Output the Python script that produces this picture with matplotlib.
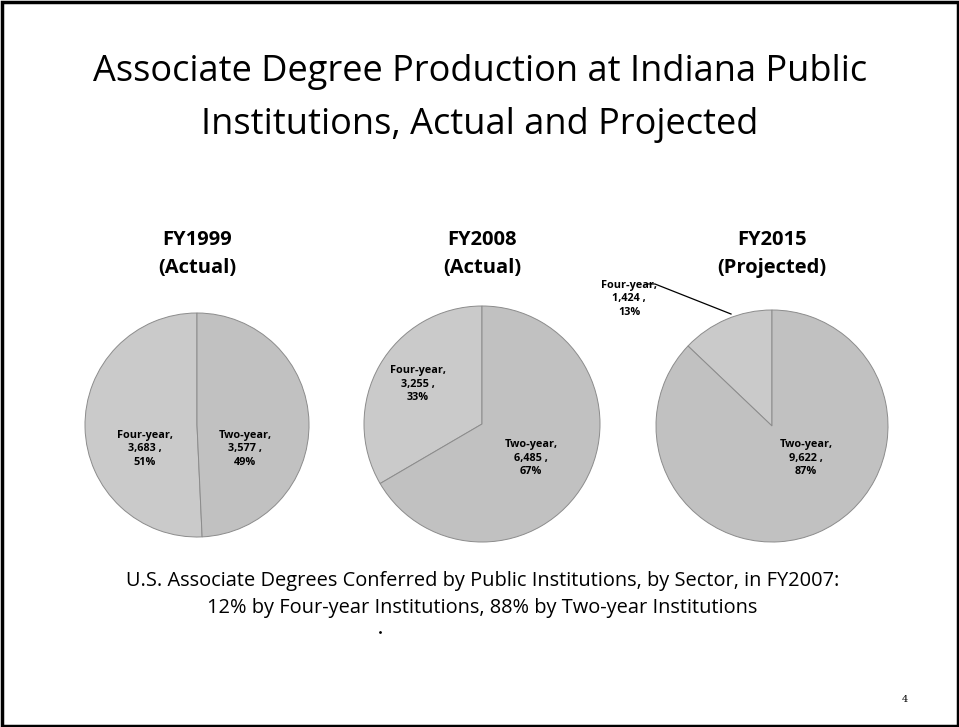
import matplotlib.pyplot as plt
from matplotlib.patches import Rectangle

W, H = 959, 727

years = ['FY1999', 'FY2008', 'FY2015']
status = ['(Actual)', '(Actual)', '(Projected)']
sectors = ['Four-year', 'Two-year']
four_year = [3683, 3255, 1424]
two_year = [3577, 6485, 9622]

fig = plt.figure(figsize=(W / 100, H / 100), dpi=100)
ax = fig.add_axes([0, 0, 1, 1])

# pie centres / radii in pixel coords (y measured from top)
centers = [(197, 425), (482, 424), (772, 426)]
radius = [112, 118, 116]
colors = ['#cacaca', '#c1c1c1']

for i in range(3):
    cx, cy = centers[i]
    vals = [four_year[i], two_year[i]]
    ax.pie(vals, center=(cx, H - cy), radius=radius[i], startangle=90,
           counterclock=True, colors=colors,
           wedgeprops=dict(edgecolor='#8c8c8c', linewidth=0.7))
    tot = sum(vals)
    labs = ['%s,\n%s ,\n%d%%' % (sectors[k], format(vals[k], ','), round(100 * vals[k] / tot))
            for k in range(2)]
    ax.text(cx, H - 240, years[i], ha='center', va='center', fontsize=14.5,
            fontweight='bold', family='Open Sans')
    ax.text(cx, H - 268, status[i], ha='center', va='center', fontsize=14.5,
            fontweight='bold', family='Open Sans')
    if i == 0:
        pos = [(145, 449), (245, 449)]
    elif i == 1:
        pos = [(418, 384), (531, 458)]
    else:
        pos = [(629, 299), (806, 458)]
    for k in range(2):
        ax.text(pos[k][0], H - pos[k][1], labs[k], ha='center', va='center',
                fontsize=7.8, fontweight='bold', family='Open Sans', linespacing=1.3)

# leader line for the small projected slice
ax.plot([648, 655, 731], [H - 284, H - 284, H - 314], color='black', lw=0.9)

ax.set_xlim(0, W)
ax.set_ylim(0, H)
ax.set_aspect('equal')
ax.axis('off')

ax.text(480, H - 72, 'Associate Degree Production at Indiana Public',
        ha='center', va='center', fontsize=26, family='Open Sans')
ax.text(480, H - 125, 'Institutions, Actual and Projected',
        ha='center', va='center', fontsize=26, family='Open Sans')

ax.text(483, H - 581, 'U.S. Associate Degrees Conferred by Public Institutions, by Sector, in FY2007:',
        ha='center', va='center', fontsize=14.4, family='Open Sans')
ax.text(482, H - 608, '12% by Four-year Institutions, 88% by Two-year Institutions',
        ha='center', va='center', fontsize=14.4, family='Open Sans')
ax.plot([380], [H - 632], marker='.', color='black', ms=2)
ax.text(905, H - 699, '4', ha='center', va='center', fontsize=7, family='DejaVu Serif')

# slide frame
ax.add_patch(Rectangle((1.5, 1.5), W - 3, H - 3, fill=False, edgecolor='black', lw=2.5))

fig.savefig('out.png', dpi=100)
